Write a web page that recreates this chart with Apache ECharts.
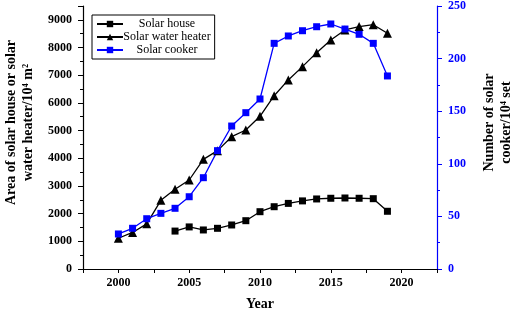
<!DOCTYPE html>
<html>
<head>
<meta charset="utf-8">
<script src="https://cdn.jsdelivr.net/npm/echarts@6/dist/echarts.min.js"></script>
<style>
  html, body { margin: 0; padding: 0; background: #fff; }
  #chart { width: 512px; height: 310px; }
</style>
</head>
<body>
<div id="chart"></div>
<script>
// data
var years = [2000, 2001, 2002, 2003, 2004, 2005, 2006, 2007, 2008, 2009,
  2010, 2011, 2012, 2013, 2014, 2015, 2016, 2017, 2018, 2019];
var solarHouse = [null, null, null, null, 1370, 1520, 1410, 1470, 1590, 1745,
  2070, 2250, 2370, 2460, 2530, 2555, 2565, 2555, 2540, 2085];
var solarWaterHeater = [1110, 1320, 1630, 2480, 2880, 3215, 3960, 4275, 4780, 5020,
  5515, 6260, 6830, 7310, 7815, 8275, 8635, 8755, 8825, 8515];
var solarCooker = [33.3, 38.7, 47.8, 52.9, 57.7, 68.7, 86.8, 112.5, 135.9, 148.6,
  161.6, 214.5, 221.5, 226.5, 230.3, 232.9, 228.1, 223.1, 214.5, 183.5];

function pairs(vals) {
  var out = [];
  for (var i = 0; i < years.length; i++) {
    if (vals[i] !== null) out.push([years[i], vals[i]]);
  }
  return out;
}

var font = "Liberation Serif";
var black = "#000000";
var blue = "#0000ff";

var chart = echarts.init(document.getElementById("chart"));
var option = {
  animation: false,
  textStyle: { fontFamily: font },
  grid: { left: 83, right: 75, top: 6, bottom: 41, containLabel: false, outerBoundsMode: "none" },
  legend: {
    left: 92,
    top: 15,
    orient: "vertical",
    borderColor: black,
    borderWidth: 1,
    padding: [3, 4, 3, 4],
    itemGap: 1,
    itemWidth: 26,
    itemHeight: 8,
    formatter: "{a|{name}}",
    textStyle: {
      fontFamily: font,
      fontSize: 12,
      color: black,
      rich: { a: { width: 78, align: "center", fontFamily: font, fontSize: 12 } },
    },
    data: ["Solar house", "Solar water heater", "Solar cooker"],
  },
  xAxis: [
    {
      type: "value",
      min: 1997.5,
      max: 2022.5,
      interval: 2.5,
      name: "Year",
      nameLocation: "middle",
      nameGap: 28,
      nameTextStyle: { fontFamily: font, fontWeight: "bold", fontSize: 14, color: black },
      axisLine: { lineStyle: { color: black, width: 1.2 } },
      axisTick: { length: 4, lineStyle: { color: black } },
      axisLabel: {
        margin: 8,
        fontFamily: font,
        fontWeight: "bold",
        fontSize: 12,
        color: black,
        formatter: function (v) {
          return v % 5 === 0 ? String(v) : "";
        },
      },
      splitLine: { show: false },
    },
    {
      type: "value",
      position: "top",
      min: 1997.5,
      max: 2022.5,
      interval: 2.5,
      axisLine: { lineStyle: { color: black, width: 1.2 } },
      axisTick: { inside: true, length: 4, lineStyle: { color: black } },
      axisLabel: { show: false },
      splitLine: { show: false },
    },
  ],
  yAxis: [
    {
      type: "value",
      min: 0,
      max: 9500,
      interval: 1000,
      name: "Area of solar house or solar\nwater heater/10\u2074 m\u00b2",
      nameLocation: "middle",
      nameRotate: 90,
      nameGap: 46,
      nameTextStyle: {
        fontFamily: font, fontWeight: "bold", fontSize: 14, color: black,
        lineHeight: 17, padding: [0, 0, 0, 30],
      },
      axisLine: { show: true, lineStyle: { color: black, width: 1.2 } },
      axisTick: { length: 5, lineStyle: { color: black } },
      minorTick: { show: true, splitNumber: 2, length: 3, lineStyle: { color: black } },
      axisLabel: {
        margin: 11,
        fontFamily: font,
        fontWeight: "bold",
        fontSize: 12,
        color: black,
        formatter: function (v) {
          return v % 1000 === 0 ? String(v) : "";
        },
      },
      splitLine: { show: false },
    },
    {
      type: "value",
      min: 0,
      max: 250,
      interval: 50,
      position: "right",
      name: "Number of solar\ncooker/10\u2074 set",
      nameLocation: "middle",
      nameRotate: 90,
      nameGap: 44,
      nameTextStyle: {
        fontFamily: font, fontWeight: "bold", fontSize: 14, color: black,
        lineHeight: 17, padding: [0, 0, 0, 30],
      },
      axisLine: { show: true, lineStyle: { color: blue, width: 1.2 } },
      axisTick: { length: 5, lineStyle: { color: blue } },
      minorTick: { show: true, splitNumber: 2, length: 3, lineStyle: { color: blue } },
      axisLabel: {
        margin: 11,
        fontFamily: font,
        fontWeight: "bold",
        fontSize: 12,
        color: blue,
      },
      splitLine: { show: false },
    },
  ],
  series: [
    {
      name: "Solar house",
      type: "line",
      yAxisIndex: 0,
      symbol: "rect",
      symbolSize: 7,
      lineStyle: { color: black, width: 1.3 },
      itemStyle: { color: black },
      data: pairs(solarHouse),
    },
    {
      name: "Solar water heater",
      type: "line",
      yAxisIndex: 0,
      symbol: "triangle",
      symbolSize: 9,
      lineStyle: { color: black, width: 1.3 },
      itemStyle: { color: black },
      data: pairs(solarWaterHeater),
    },
    {
      name: "Solar cooker",
      type: "line",
      yAxisIndex: 1,
      symbol: "rect",
      symbolSize: 7,
      lineStyle: { color: blue, width: 1.3 },
      itemStyle: { color: blue },
      data: pairs(solarCooker),
    },
  ],
};
chart.setOption(option);
</script>
</body>
</html>
